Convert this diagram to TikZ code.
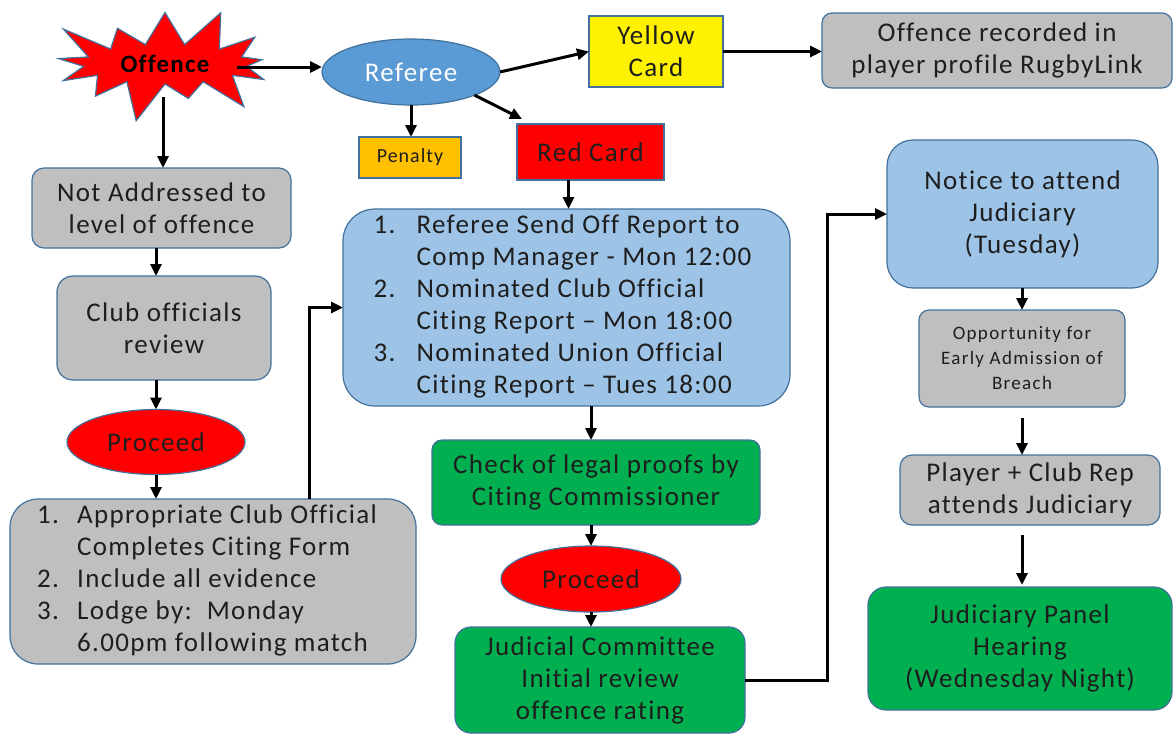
\documentclass[tikz,border=0pt]{standalone}
\usepackage{fontspec}
\setmainfont{Carlito}[LetterSpace=5,Ligatures=NoCommon]
\usetikzlibrary{shapes.geometric,shapes.symbols,arrows.meta,calc}
\definecolor{bd}{HTML}{41719C}
\definecolor{grayf}{HTML}{BFBFBF}
\definecolor{lblue}{HTML}{9DC3E6}
\definecolor{eblue}{HTML}{5B9BD5}
\definecolor{gfill}{HTML}{00B050}
\definecolor{ofill}{HTML}{FFC000}
\definecolor{tx}{HTML}{1E1E1E}
\tikzset{
  base/.style={draw=bd, line width=0.6pt, inner sep=0pt, outer sep=0pt, align=center, text=tx,
    font=\fontsize{13.5}{16}\selectfont},
  gbox/.style={base, fill=grayf, rounded corners=#1},
  bbox/.style={base, fill=lblue, rounded corners=#1},
  grbox/.style={base, fill=gfill, rounded corners=#1},
  oval/.style={base, ellipse, fill=#1},
  conn/.style={line width=1.5pt, -{Triangle[length=6pt,width=5.5pt]}},
}
\begin{document}
\begin{tikzpicture}[x=0.5pt,y=-0.5pt]
\useasboundingbox (0,0) rectangle (1176,735);
% nodes
\node[base, starburst, starburst points=13, starburst point height=22pt, fill=red,
  minimum width=126pt, minimum height=64pt, font=\fontsize{12.5}{14}\selectfont\bfseries, text=black] (off) at (165,64) {Offence};
\node[oval=eblue, minimum width=89pt, minimum height=33pt, text=white] (ref) at (411,72) {Referee};
\node[base, fill=yellow, minimum width=67pt, minimum height=35.5pt] (yc) at (656,51.5) {Yellow\\Card};
\node[gbox=5pt, minimum width=175pt, minimum height=37.5pt] (rec) at (997,50.5) {Offence recorded in\\player profile RugbyLink};
\node[base, fill=ofill, minimum width=51pt, minimum height=20.5pt, font=\fontsize{10}{12}\selectfont] (pen) at (410,157.5) {Penalty};
\node[base, fill=red, minimum width=73.5pt, minimum height=28pt] (rc) at (590.5,152) {Red Card};
\node[gbox=6pt, minimum width=129.5pt, minimum height=40pt] (nat) at (161.5,208) {Not Addressed to\\level of offence};
\node[gbox=8pt, minimum width=107pt, minimum height=52pt] (cor) at (164,328) {Club officials\\review};
\node[oval=red, minimum width=89pt, minimum height=32.5pt] (pl) at (156,442) {Proceed};
\node[gbox=14pt, minimum width=203pt, minimum height=82.5pt] (lst) at (213,581.5) {%
  \begin{tabular}{@{}p{20pt}@{}l@{\hspace{6pt}}}
  1. & Appropriate Club Official\\
     & Completes Citing Form\\
  2. & Include all evidence\\
  3. & Lodge by:\ \ Monday\\
     & 6.00pm following match
  \end{tabular}};
\node[bbox=16pt, minimum width=223.5pt, minimum height=98.5pt] (cen) at (566.5,307.5) {%
  \begin{tabular}{@{}p{21.5pt}@{}l@{\hspace{4pt}}}
  1. & Referee Send Off Report to\\
     & Comp Manager - Mon 12:00\\
  2. & Nominated Club Official\\
     & Citing Report -- Mon 18:00\\
  3. & Nominated Union Official\\
     & Citing Report -- Tues 18:00
  \end{tabular}};
\node[grbox=5pt, minimum width=164pt, minimum height=42.5pt] (chk) at (596,482.5) {Check of legal proofs by\\Citing Commissioner};
\node[oval=red, minimum width=90pt, minimum height=33pt] (pc) at (591,579) {Proceed};
\node[grbox=8pt, minimum width=145pt, minimum height=53pt] (jc) at (600,680) {Judicial Committee\\Initial review\\offence rating};
\node[bbox=13pt, minimum width=135.5pt, minimum height=74pt] (nt) at (1022.5,214) {Notice to attend\\Judiciary\\(Tuesday)};
\node[gbox=5pt, minimum width=103pt, minimum height=48.5pt, font=\fontsize{9.5}{12.5}\selectfont\addfontfeatures{LetterSpace=7}] (op) at (1022,358.5) {Opportunity for\\Early Admission of\\Breach};
\node[gbox=6pt, minimum width=130pt, minimum height=35pt] (pcr) at (1030,490) {Player + Club Rep\\attends Judiciary};
\node[grbox=9pt, minimum width=152pt, minimum height=61.5pt] (jp) at (1020,648.5) {Judiciary Panel\\Hearing\\(Wednesday Night)};
% helper coordinates
\coordinate (offE) at (237,67);
\coordinate (offS) at (163,97);
\coordinate (rctip) at (522,119);
\coordinate (lstup) at (309,499);
\coordinate (jcx) at (827,685);
% connectors
\draw[conn] (offE) -- (offE -| ref.west);
\draw[conn] (offS) -- (offS |- nat.north);
\draw[conn] (ref.east) -- (yc.west);
\draw[conn] (yc.east) -- (yc.east -| rec.west);
\draw[conn] (ref.south) -- (ref.south |- pen.north);
\draw[conn] (ref.-20) -- (rctip);
\draw[conn] ([xshift=-11pt]rc.south) -- ([xshift=-11pt]rc.south |- cen.north);
\draw[conn] (pl |- nat.south) -- (pl |- cor.north);
\draw[conn] (pl |- cor.south) -- (pl.north);
\draw[conn] (pl.south) -- (pl |- lst.north);
\draw[conn] (lstup) |- (cen.west);
\draw[conn] (pc |- cen.south) -- (pc |- chk.north);
\draw[conn] (pc |- chk.south) -- (pc.north);
\draw[conn] (pc.south) -- (pc |- jc.north);
\draw[conn] (jc.east) -- (jc.east -| jcx) |- (nt.west);
\draw[conn] (op |- nt.south) -- (op.north);
\draw[conn] ([yshift=-5.5pt]op.south) -- (op |- pcr.north);
\draw[conn] ([yshift=-5pt]op |- pcr.south) -- ([yshift=1pt]op |- jp.north);
\end{tikzpicture}
\end{document}
